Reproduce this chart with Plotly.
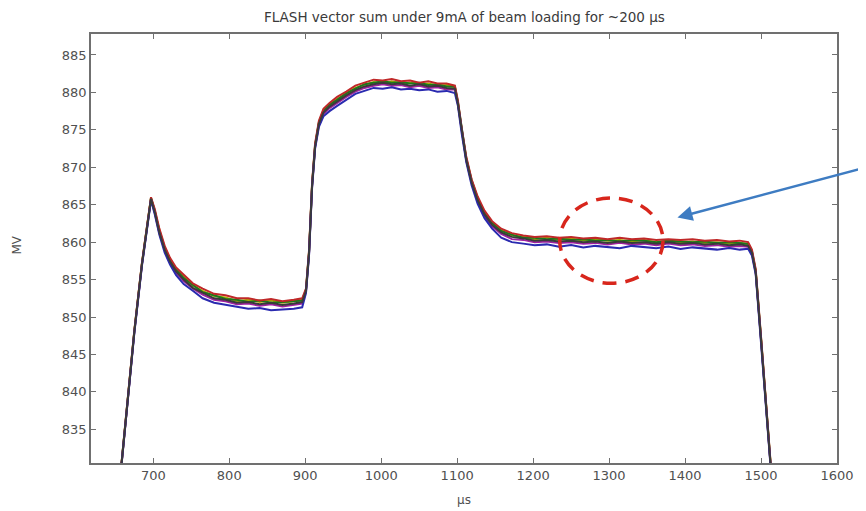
import plotly.graph_objects as go

# time axis (µs)
t_us = [655, 665, 675, 685, 692, 697, 702, 708, 715, 722,
        730, 740, 752, 765, 780, 795, 810, 825, 840, 855,
        870, 885, 896, 901, 905, 909, 913, 918, 924, 932,
        942, 954, 966, 978, 990, 1002, 1014, 1026, 1038, 1050,
        1062, 1074, 1086, 1097, 1101, 1106, 1112, 1119, 1127, 1136,
        1146, 1158, 1172, 1187, 1202, 1218, 1234, 1250, 1266, 1282,
        1298, 1314, 1330, 1346, 1362, 1378, 1394, 1410, 1426, 1442,
        1458, 1472, 1483, 1488, 1493, 1500, 1508, 1515]

# vector sum traces (MV), several overlapping pulses
vs_dark = [827.0, 837.5, 848.0, 857.0, 862.5, 865.8,
           864.0, 861.3, 859.0, 857.4, 856.1,
           855.0, 853.9, 853.3, 852.5, 852.3, 851.9, 852.0, 851.7, 851.9, 851.6, 851.8, 852.0,
           853.5, 858.5, 867.5, 872.8, 875.8,
           877.3, 878.1, 878.8, 879.6, 880.3, 880.8, 881.1, 881.3, 881.1, 881.2, 880.9, 881.1, 880.8, 880.9, 880.6, 880.5,
           878.5, 874.8, 871.0, 868.0, 865.6, 863.7, 862.3, 861.3,
           860.7, 860.5, 860.2, 860.3, 860.1, 860.2, 860.0, 860.1, 859.9, 860.1, 859.9, 860.0, 859.8, 860.0, 859.8, 859.9, 859.7, 859.8, 859.6, 859.7, 859.5,
           858.6, 856.0, 847.0, 836.4, 827.0]

vs_olive = [827.1, 837.6, 848.1, 857.1, 862.6, 865.9,
            864.1, 861.6, 859.3, 857.7, 856.3,
            855.3, 854.2, 853.5, 852.8, 852.6, 852.1, 852.3, 852.0, 852.2, 851.9, 852.1, 852.3,
            853.6, 858.6, 867.6, 872.9, 875.9,
            877.5, 878.3, 879.1, 879.8, 880.6, 881.0, 881.4, 881.2, 881.5, 881.2, 881.3, 881.1, 881.2, 880.9, 881.0, 880.7,
            878.6, 874.9, 871.1, 868.2, 865.8, 863.9, 862.5, 861.6,
            860.9, 860.7, 860.4, 860.6, 860.3, 860.5, 860.2, 860.4, 860.2, 860.3, 860.1, 860.3, 860.0, 860.2, 860.0, 860.1, 859.9, 860.0, 859.8, 859.9, 859.7,
            858.7, 856.1, 847.1, 836.5, 827.1]

vs_green = [827.1, 837.6, 848.1, 857.1, 862.6, 865.9,
            864.2, 861.5, 859.2, 857.6, 856.4,
            855.2, 854.3, 853.3, 852.9, 852.4, 852.3, 852.0, 852.2, 851.9, 852.0, 852.1, 852.2,
            853.7, 858.7, 867.7, 873.0, 876.0,
            877.6, 878.4, 879.0, 879.9, 880.5, 881.1, 881.3, 881.5, 881.3, 881.4, 881.2, 881.3, 881.0, 881.1, 880.8, 880.8,
            878.7, 875.0, 871.2, 868.3, 865.9, 863.9, 862.6, 861.5,
            861.0, 860.6, 860.6, 860.4, 860.5, 860.3, 860.4, 860.2, 860.3, 860.1, 860.3, 860.2, 860.0, 860.2, 860.1, 860.0, 860.1, 859.9, 860.0, 859.9, 859.8,
            858.8, 856.2, 847.2, 836.6, 827.2]

vs_red = [827.2, 837.7, 848.2, 857.2, 862.7, 866.0,
          864.4, 861.8, 859.5, 857.9, 856.6,
          855.6, 854.5, 853.8, 853.1, 852.9, 852.5, 852.5, 852.2, 852.4, 852.1, 852.3, 852.5,
          853.8, 858.9, 867.9, 873.2, 876.2,
          877.8, 878.6, 879.4, 880.1, 880.9, 881.3, 881.7, 881.6, 881.8, 881.5, 881.6, 881.3, 881.5, 881.2, 881.2, 880.9,
          878.9, 875.2, 871.4, 868.4, 866.1, 864.2, 862.8, 861.8,
          861.2, 860.9, 860.7, 860.8, 860.6, 860.7, 860.5, 860.6, 860.4, 860.6, 860.4, 860.5, 860.3, 860.4, 860.3, 860.4, 860.2, 860.3, 860.1, 860.2, 860.0,
          859.0, 856.4, 847.4, 836.8, 827.3]

vs_magenta = [826.9, 837.4, 847.9, 856.9, 862.4, 865.7,
              863.9, 861.2, 858.9, 857.2, 855.9,
              854.8, 853.8, 853.0, 852.3, 852.1, 851.7, 851.8, 851.5, 851.7, 851.4, 851.6, 851.8,
              853.4, 858.4, 867.4, 872.7, 875.6,
              877.1, 877.9, 878.6, 879.4, 880.1, 880.6, 880.9, 881.1, 880.9, 881.0, 880.7, 880.9, 880.6, 880.7, 880.4, 880.4,
              878.4, 874.7, 870.9, 867.9, 865.4, 863.5, 862.1, 861.1,
              860.4, 860.3, 860.0, 860.1, 859.9, 860.0, 859.8, 859.9, 859.7, 859.9, 859.7, 859.8, 859.6, 859.8, 859.6, 859.7, 859.5, 859.6, 859.4, 859.5, 859.4,
              858.5, 855.9, 846.9, 836.3, 826.9]

vs_blue = [827.0, 837.4, 847.8, 856.8, 862.3, 865.6,
           863.7, 861.0, 858.6, 857.0, 855.6,
           854.4, 853.5, 852.5, 851.9, 851.6, 851.4, 851.1, 851.2, 850.9, 851.0, 851.1, 851.3,
           853.2, 858.2, 867.2, 872.5, 875.4,
           876.8, 877.5, 878.2, 879.0, 879.8, 880.2, 880.6, 880.5, 880.7, 880.4, 880.5, 880.3, 880.4, 880.1, 880.2, 879.9,
           878.2, 874.5, 870.7, 867.6, 865.1, 863.2, 861.8, 860.6,
           860.0, 859.8, 859.6, 859.7, 859.4, 859.6, 859.3, 859.5, 859.4, 859.2, 859.5, 859.3, 859.2, 859.4, 859.1, 859.3, 859.2, 859.0, 859.2, 859.0, 859.1,
           858.2, 855.7, 846.7, 836.2, 826.8]

series = [
    ("olive", vs_olive, "#b0b000"),
    ("green", vs_green, "#1a7a1a"),
    ("red", vs_red, "#c02828"),
    ("magenta", vs_magenta, "#a020a0"),
    ("blue", vs_blue, "#2a2ab0"),
    ("dark", vs_dark, "#3a3a3a"),
]

x_ticks = [700, 800, 900, 1000, 1100, 1200, 1300, 1400, 1500, 1600]
y_ticks = [835, 840, 845, 850, 855, 860, 865, 870, 875, 880, 885]

fig = go.Figure()
for name, vals, col in series:
    fig.add_trace(go.Scatter(x=t_us, y=vals, mode="lines", name=name,
                             line=dict(color=col, width=2.0), showlegend=False))

axis_common = dict(showline=True, mirror="ticks", ticks="inside", ticklen=5,
                   linecolor="#707070", linewidth=1.5, tickcolor="#707070",
                   showgrid=False, zeroline=False,
                   tickfont=dict(family="DejaVu Sans", size=13, color="#505050"))

fig.update_xaxes(range=[618, 1600], tickvals=x_ticks, **axis_common)
fig.update_yaxes(range=[830.5, 887.8], tickvals=y_ticks, **axis_common)

# red dashed circle highlighting the flat-top region
fig.add_shape(type="circle", xref="x", yref="y", x0=1235, x1=1371, y0=854.5, y1=865.9,
              line=dict(color="#d8261c", width=3.5, dash="14px,9px"))

# blue arrow pointing at the circle
fig.add_annotation(x=1390, y=863.3, xref="x", yref="y", text="", showarrow=True,
                   ax=190, ay=-50, arrowhead=2, arrowsize=1.2, arrowwidth=2.5,
                   arrowcolor="#3e7cc2")

fig.add_annotation(text="FLASH vector sum under 9mA of beam loading for ~200 µs",
                   xref="paper", yref="paper", x=0.5, y=1.039, showarrow=False,
                   xanchor="center", yanchor="middle",
                   font=dict(family="DejaVu Sans", size=13.5, color="#3a3a3a"))
fig.add_annotation(text="µs", xref="paper", yref="paper", x=0.5, y=-0.086,
                   showarrow=False, xanchor="center", yanchor="middle",
                   font=dict(family="DejaVu Sans", size=12, color="#505050"))
fig.add_annotation(text="MV", xref="paper", yref="paper", x=-0.0985, y=0.508,
                   textangle=-90, showarrow=False, xanchor="center", yanchor="middle",
                   font=dict(family="DejaVu Sans", size=12, color="#505050"))

fig.update_layout(width=858, height=503, margin=dict(l=83, r=24, t=26, b=48),
                  paper_bgcolor="white", plot_bgcolor="white")

fig.write_html("out.html")
